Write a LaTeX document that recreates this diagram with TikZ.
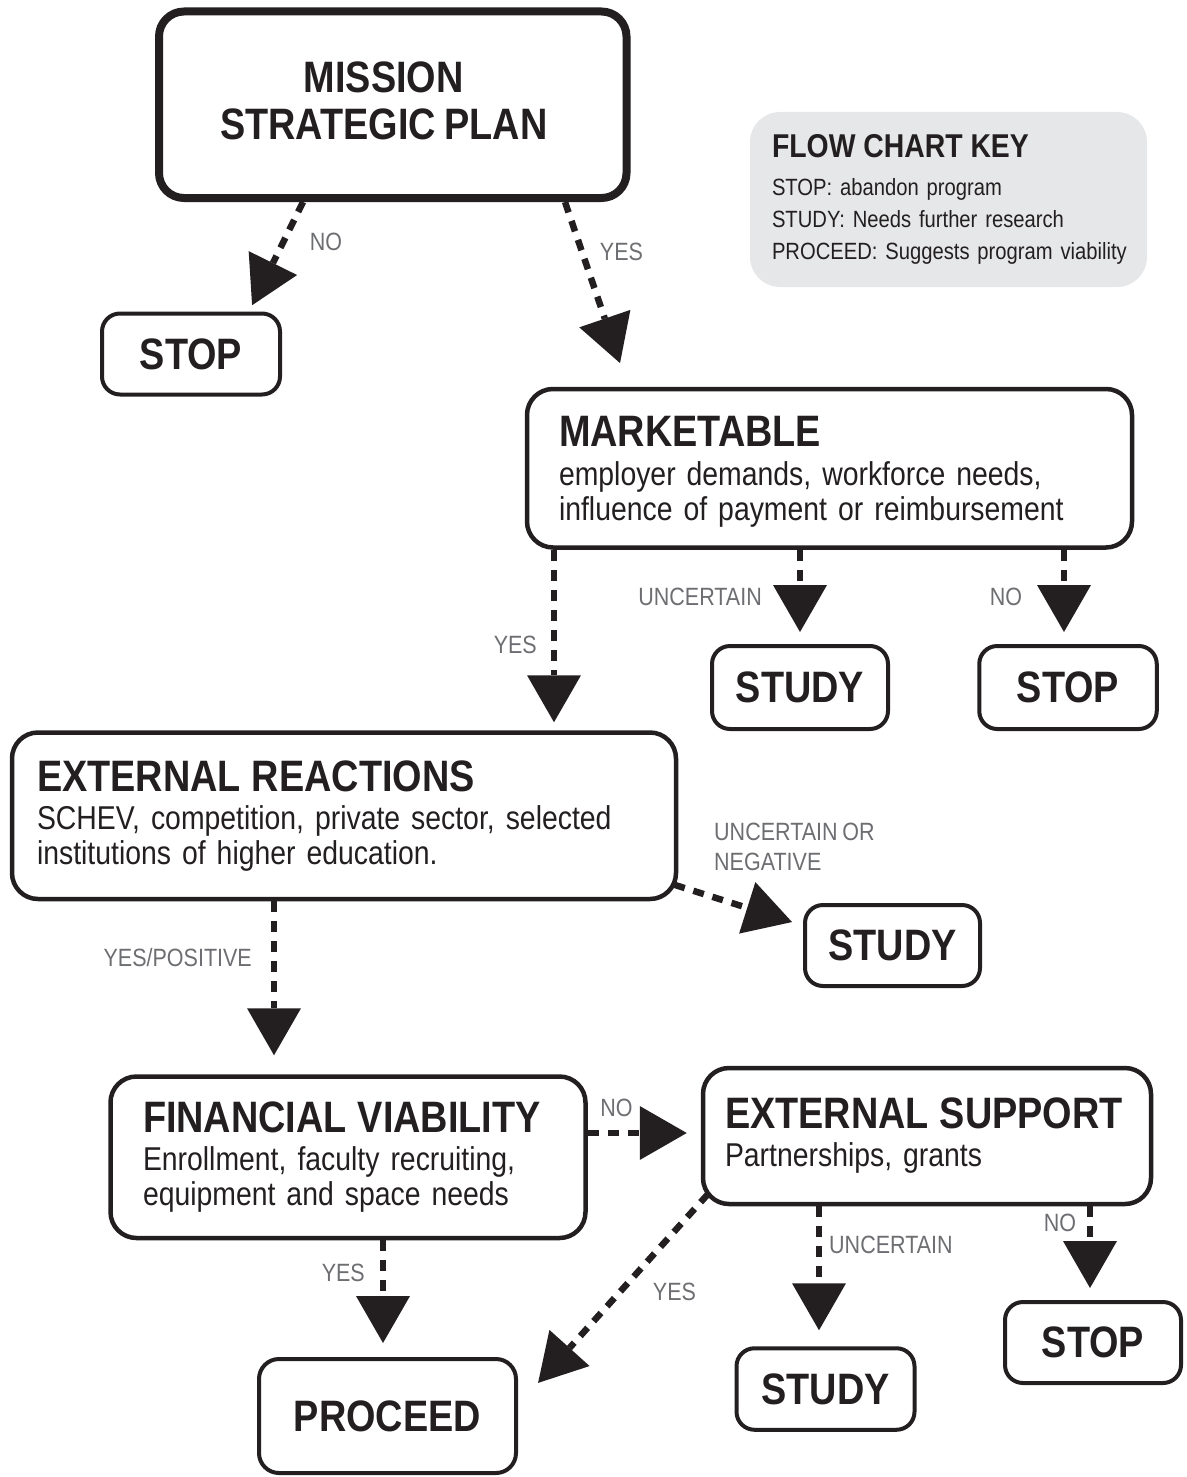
\documentclass[tikz,border=0pt]{standalone}
\usepackage{fontspec}
\setmainfont{Liberation Sans}[FakeStretch=0.86, WordSpace=0.8]
\usetikzlibrary{arrows.meta}
\definecolor{ink}{HTML}{231F20}
\definecolor{lbl}{HTML}{6D6E71}
\definecolor{keybg}{HTML}{E6E7E8}
\newcommand{\ttlf}{\fontsize{44}{47}\selectfont\bfseries}
\tikzset{
  bigbox/.style={draw=ink, line width=4.5pt, rounded corners=26pt, inner sep=0pt, text=ink, align=left, font=\fontsize{33}{35}\selectfont},
  endbox/.style={draw=ink, line width=4pt, rounded corners=18pt, inner sep=0pt, text=ink, font=\ttlf},
  lab/.style={text=lbl, font=\fontsize{25}{30}\selectfont, inner sep=0pt},
  arr/.style={draw=ink, line width=6.5pt, dash pattern=on 11pt off 9pt, -{Triangle[length=47pt,width=54pt,line width=0pt]}},
}
\begin{document}
\begin{tikzpicture}[x=1pt,y=-1pt]
\useasboundingbox (0,0) rectangle (1186,1477);

% main boxes
\node[bigbox, line width=8pt, rounded corners=25pt, align=center, minimum width=467.5pt, minimum height=186.5pt, font=\ttlf] (mis) at (392.75,104.75) {\hspace*{-18pt}MISSION\\\hspace*{-18pt}STRATEGIC PLAN\rule[-8pt]{0pt}{0pt}};
\node[fill=keybg, rounded corners=30pt, inner sep=0pt, minimum width=397pt, minimum height=175pt, text width=353pt, align=left, text=ink, font=\fontsize{23.5}{32}\selectfont] (key) at (948.5,199.5) {\mbox{\fontsize{33}{35}\selectfont\bfseries FLOW CHART KEY}\\[6pt]\mbox{STOP: abandon program}\\\mbox{STUDY: Needs further research}\\\mbox{PROCEED: Suggests program viability}};
\node[bigbox, minimum width=605pt, minimum height=158.5pt, text width=541pt] (mkt) at (829.5,468.25) {\mbox{\ttlf MARKETABLE\rule{0pt}{37pt}}\\[4pt]\mbox{employer demands, workforce needs,}\\\mbox{influence of payment or reimbursement}};
\node[bigbox, minimum width=664pt, minimum height=166.5pt, text width=614pt] (extr) at (344,815.75) {\mbox{\ttlf EXTERNAL REACTIONS}\\[3pt]\mbox{SCHEV, competition, private sector, selected}\\\mbox{institutions of higher education.}};
\node[bigbox, minimum width=475pt, minimum height=161.5pt, text width=410pt] (fin) at (348,1157.25) {\mbox{\ttlf FINANCIAL VIABILITY}\\[3pt]\mbox{Enrollment, faculty recruiting,}\\\mbox{equipment and space needs}};
\node[bigbox, minimum width=448pt, minimum height=136pt, text width=404pt] (esup) at (927,1136) {\mbox{\ttlf EXTERNAL SUPPORT}\\[3pt]\mbox{Partnerships, grants}};

% end boxes
\node[endbox, minimum width=178pt, minimum height=81pt] (st1) at (191,354) {STOP};
\node[endbox, minimum width=176pt, minimum height=83pt] (su1) at (800,687.5) {STUDY};
\node[endbox, minimum width=177.5pt, minimum height=83pt] (st2) at (1068,687.5) {STOP};
\node[endbox, minimum width=175pt, minimum height=81pt] (su2) at (892.5,945.5) {STUDY};
\node[endbox, rounded corners=20pt, minimum width=257pt, minimum height=114pt] (proc) at (387.5,1416) {\raisebox{-6pt}{PROCEED}};
\node[endbox, minimum width=178pt, minimum height=81.5pt] (su3) at (825.5,1389) {STUDY};
\node[endbox, minimum width=176pt, minimum height=81pt] (st3) at (1093,1342.5) {STOP};

% columns / rows
\coordinate (xA) at (554,0);
\coordinate (xB) at (1064,0);
\coordinate (xC) at (274,0);
\coordinate (xD) at (383,0);
\coordinate (xE) at (819,0);
\coordinate (xF) at (1090,0);
\coordinate (yG) at (0,1133);

% connectors
\draw[arr, shorten >=7pt] ([xshift=-89.75pt]mis.south) -- ([xshift=58pt]st1.north);
\draw[arr, shorten >=25pt] ([xshift=172.25pt]mis.south) -- ([xshift=-201.4pt]mkt.north);
\draw[arr, shorten >=8pt] (mkt.south -| xA) -- (extr.north -| xA);
\draw[arr, shorten >=12pt] (mkt.south -| su1.north) -- (su1.north);
\draw[arr, shorten >=12pt] (mkt.south -| xB) -- (st2.north -| xB);
\draw[arr, shorten >=11.5pt] ([xshift=-4pt,yshift=-69pt]extr.east) -- ([yshift=20pt]su2.west);
\draw[arr, shorten >=19pt] (extr.south -| xC) -- (fin.north -| xC);
\draw[arr, shorten >=14pt] (fin.east |- yG) -- (esup.west |- yG);
\draw[arr, shorten >=14pt] (fin.south -| xD) -- (proc.north -| xD);
\draw[arr, shorten >=30pt] ([xshift=7.25pt,yshift=12.25pt]esup.south west) -- ([yshift=10.8pt]proc.east);
\draw[arr, shorten >=16pt] (esup.south -| xE) -- (su3.north -| xE);
\draw[arr, shorten >=12pt] (esup.south -| xF) -- (st3.north -| xF);

% labels
\node[lab] (l1) at (326,242) {NO};
\node[lab] (l2) at (621.5,251.5) {YES};
\node[lab, anchor=east] (l3) at (537,645) {YES};
\node[lab, anchor=east] (l4) at (762,597) {UNCERTAIN};
\node[lab] (l5) at (1006,597) {NO};
\node[lab, anchor=west, align=left] (l6) at (714,847) {UNCERTAIN OR\\NEGATIVE};
\node[lab, anchor=east] (l7) at (252,958) {YES/POSITIVE};
\node[lab] (l8) at (616.5,1108) {NO};
\node[lab, anchor=east] (l9) at (365,1273) {YES};
\node[lab] (l10) at (674.5,1292) {YES};
\node[lab, anchor=west] (l11) at (829,1245) {UNCERTAIN};
\node[lab] (l12) at (1060,1223) {NO};
\end{tikzpicture}
\end{document}
